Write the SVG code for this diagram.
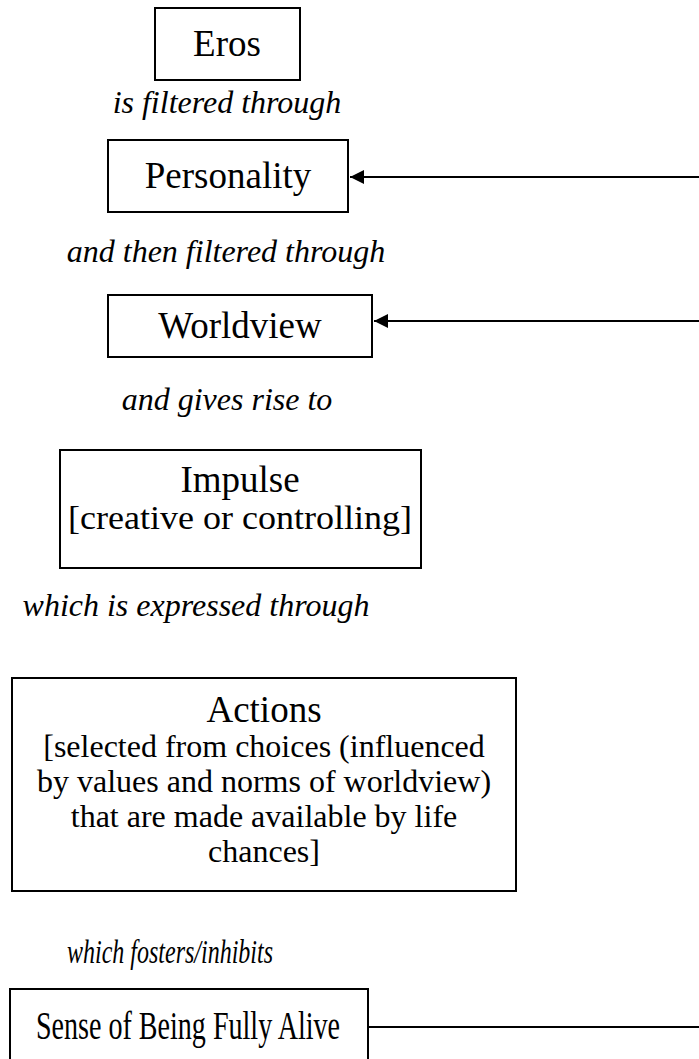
<svg xmlns="http://www.w3.org/2000/svg" width="699" height="1059" viewBox="0 0 699 1059">
<style>
rect.box{fill:#fff;stroke:#000;stroke-width:2}
text{font-family:"Liberation Serif","Times New Roman",serif;fill:#000;text-anchor:middle}
.t{font-size:37px}
.b{font-size:32px}
.cap{font-size:32px;font-style:italic}
.conn{stroke:#000;stroke-width:2;fill:none}
</style>
<defs>
<marker id="ah" viewBox="0 0 10 10" refX="10" refY="5" markerWidth="14" markerHeight="14" markerUnits="userSpaceOnUse" orient="auto">
<path d="M0,0 L10,5 L0,10 z" fill="#000"/>
</marker>
</defs>
<rect width="699" height="1059" fill="#fff"/>
<g id="eros"><rect class="box" x="155" y="8" width="145" height="72"/><text class="t" x="227" y="56">Eros</text></g>
<text class="cap" x="227" y="113">is filtered through</text>
<g id="personality"><rect class="box" x="108" y="140" width="240" height="72"/><text class="t" x="228" y="188">Personality</text></g>
<text class="cap" x="226" y="262">and then filtered through</text>
<g id="worldview"><rect class="box" x="108" y="295" width="264" height="62"/><text class="t" x="240" y="338">Worldview</text></g>
<text class="cap" x="227" y="410">and gives rise to</text>
<g id="impulse"><rect class="box" x="60" y="450" width="361" height="118"/><text class="t" x="240" y="492">Impulse</text><text class="t" x="240" y="529" style="font-size:34px" textLength="344" lengthAdjust="spacingAndGlyphs">[creative or controlling]</text></g>
<text class="cap" x="196" y="616">which is expressed through</text>
<g id="actions"><rect class="box" x="12" y="678" width="504" height="213"/>
<text class="t" x="264" y="722">Actions</text>
<text class="b" x="264" y="757">[selected from choices (influenced</text>
<text class="b" x="264" y="792">by values and norms of worldview)</text>
<text class="b" x="264" y="827">that are made available by life</text>
<text class="b" x="264" y="862">chances]</text></g>
<text class="cap" x="170" y="963" style="font-size:33px" textLength="206" lengthAdjust="spacingAndGlyphs">which fosters/inhibits</text>
<g id="sense"><rect class="box" x="10" y="989" width="358" height="90"/><text class="t" x="188" y="1039" style="font-size:39px" textLength="304" lengthAdjust="spacingAndGlyphs">Sense of Being Fully Alive</text></g>
<g id="connectors">
<line class="conn" x1="699" y1="177" x2="350" y2="177" marker-end="url(#ah)"/>
<line class="conn" x1="699" y1="321" x2="374" y2="321" marker-end="url(#ah)"/>
<line class="conn" x1="368" y1="1027" x2="699" y2="1027"/>
</g>
</svg>
